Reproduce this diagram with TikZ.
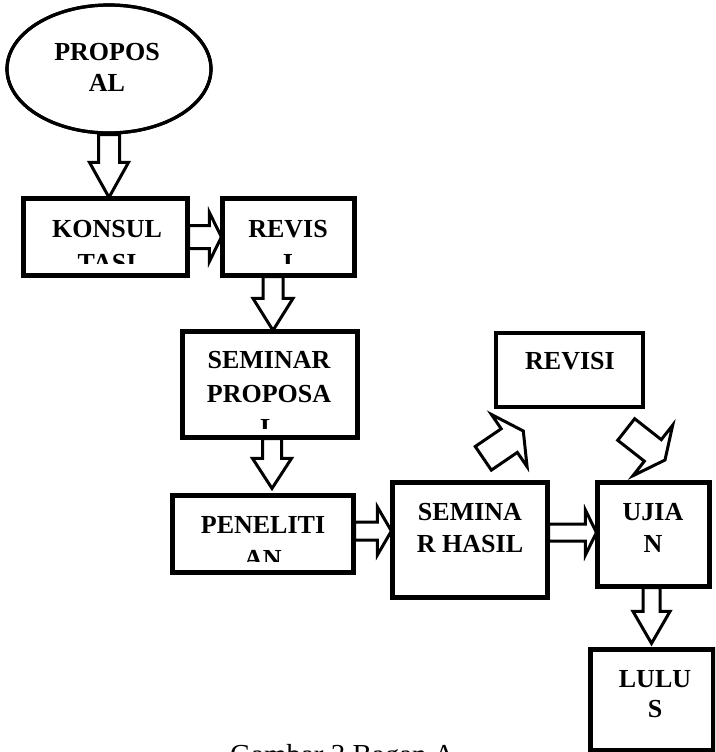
\documentclass[tikz,border=0pt]{standalone}
\usepackage{fontspec}
\setmainfont{Liberation Serif}
\usetikzlibrary{calc,shapes.geometric}
\tikzset{
  box/.style={draw, line width=3.2pt, inner sep=0pt},
  oval/.style={draw, ellipse, line width=3.2pt, inner sep=0pt, minimum width=204pt, minimum height=128pt},
  lbl/.style={font=\fontsize{26}{30}\selectfont\bfseries, anchor=base, inner sep=0pt},
  captxt/.style={font=\fontsize{29}{34}\selectfont, anchor=base west, inner sep=0pt},
  blockarrow/.style={draw, fill=white, line width=3pt, line join=miter}
}
% #1 start, #2 tip, #3 half shaft, #4 half head, #5 head length
\newcommand\blockarr[5]{%
  \path ($(#2)!#5!(#1)$) coordinate (bbase);
  \draw[blockarrow] ($(#1)!#3!90:(#2)$) -- ($(bbase)!#3!90:(#2)$) -- ($(bbase)!#4!90:(#2)$) -- (#2)
    -- ($(bbase)!#4!-90:(#2)$) -- ($(bbase)!#3!-90:(#2)$) -- ($(#1)!#3!-90:(#2)$) -- cycle;}
\begin{document}
\begin{tikzpicture}[x=1pt,y=-1pt]
\path[use as bounding box, clip] (0,0) rectangle (715,752);
\fill[white] (0,0) rectangle (715,752);

% shapes (positions)
\path (109,69) node[oval] (prop) {};
\path (105.5,237) node[box, minimum width=163pt, minimum height=76pt] (kons) {};
\path (288.5,237) node[box, minimum width=131pt, minimum height=76pt] (rev1) {};
\path (270,384.5) node[box, minimum width=174pt, minimum height=105pt] (semp) {};
\path (263,534) node[box, minimum width=180pt, minimum height=76pt] (pen) {};
\path (470,540) node[box, minimum width=154pt, minimum height=114pt] (sh) {};
\path (653.5,534.5) node[box, minimum width=111pt, minimum height=103pt] (uj) {};
\path (569.5,370) node[box, minimum width=147pt, minimum height=74pt] (rev2) {};
\path (652,700) node[box, minimum width=122pt, minimum height=100pt] (lul) {};

% connector end points
\coordinate (a1s) at (prop.south);
\coordinate (a1e) at (prop.south |- kons.north);
\coordinate (a3s) at ([xshift=-15.5pt]rev1.south);
\coordinate (a3e) at (a3s |- semp.north);
\coordinate (a4s) at ([xshift=2pt]semp.south);
\coordinate (a4e) at ([yshift=6pt]pen.north -| a4s);
\coordinate (a5s) at ([yshift=3pt]pen.east);
\coordinate (a5e) at (a5s -| sh.west);
\coordinate (a6e) at ([yshift=2pt]uj.west);
\coordinate (a6s) at (a6e -| sh.east);
\coordinate (a7s) at ([xshift=-2pt]uj.south);
\coordinate (a7e) at ([yshift=5pt]lul.north -| a7s);
\coordinate (a8s) at (483.3,458.3);
\coordinate (a8e) at (523.3,431);
\coordinate (a9s) at (626.2,429.5);
\coordinate (a9e) at (665,460);

% block arrows
\blockarr{a1s}{a1e}{10.5pt}{19.5pt}{35pt}
\blockarr{kons.east}{rev1.west}{11.5pt}{24.5pt}{12pt}
\blockarr{a3s}{a3e}{10pt}{20pt}{32pt}
\blockarr{a4s}{a4e}{9.5pt}{19.5pt}{30pt}
\blockarr{a5s}{a5e}{9pt}{24pt}{14pt}
\blockarr{a6s}{a6e}{8.5pt}{22.5pt}{11pt}
\blockarr{a7s}{a7e}{8.5pt}{18.5pt}{32pt}
\blockarr{a8s}{a8e}{14.3pt}{31.6pt}{17pt}
\blockarr{a9s}{a9e}{13.7pt}{32.2pt}{15.5pt}

% redraw borders on top
\path (109,69) node[oval] {};
\draw[line width=3.2pt] (kons.north west) rectangle (kons.south east);
\draw[line width=3.2pt] (rev1.north west) rectangle (rev1.south east);
\draw[line width=3.2pt] (semp.north west) rectangle (semp.south east);
\draw[line width=3.2pt] (pen.north west) rectangle (pen.south east);
\draw[line width=3.2pt] (sh.north west) rectangle (sh.south east);
\draw[line width=3.2pt] (uj.north west) rectangle (uj.south east);
\draw[line width=3.2pt] (lul.north west) rectangle (lul.south east);

% labels
\node[lbl] (t1a) at (107,60) {PROPOS};
\node[lbl] (t1b) at (107,92) {AL};
\begin{scope}
  \clip (kons.north west) rectangle ([yshift=13pt]kons.south east);
  \node[lbl] (t2a) at (107,237) {KONSUL};
  \node[lbl] (t2b) at (107,271) {TASI};
\end{scope}
\begin{scope}
  \clip (rev1.north west) rectangle ([yshift=13pt]rev1.south east);
  \node[lbl] (t3a) at (288,237) {REVIS};
  \node[lbl] (t3b) at (288,271) {I};
\end{scope}
\begin{scope}
  \clip (semp.north west) rectangle ([yshift=10pt]semp.south east);
  \node[lbl] (t4a) at (269,368) {SEMINAR};
  \node[lbl] (t4b) at (269,402) {PROPOSA};
  \node[lbl] (t4c) at (269,436) {L};
\end{scope}
\begin{scope}
  \clip (pen.north west) rectangle ([yshift=12pt]pen.south east);
  \node[lbl] (t5a) at (263,533) {PENELITI};
  \node[lbl] (t5b) at (263,567) {AN};
\end{scope}
\node[lbl] (t6a) at (470,520) {SEMINA};
\node[lbl] (t6b) at (470,552) {R HASIL};
\node[lbl] (t7a) at (653,520) {UJIA};
\node[lbl] (t7b) at (653,552) {N};
\node[lbl] (t8) at (570,369) {REVISI};
\node[lbl] (t9a) at (655,687) {LULU};
\node[lbl] (t9b) at (655,717) {S};

% caption (cut by the lower edge)
\node[captxt] (capt) at (230,764) {Gambar 3 Bagan A};
\end{tikzpicture}
\end{document}
